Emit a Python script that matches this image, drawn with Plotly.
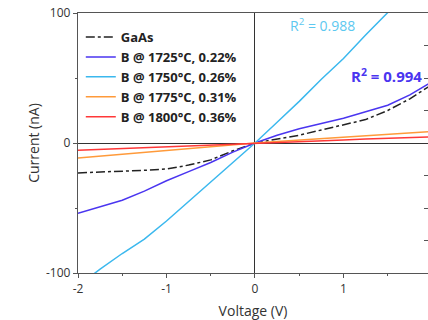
import plotly.graph_objects as go

voltage = [-2.0, -1.75, -1.5, -1.25, -1.0, -0.75, -0.5, -0.25, 0.0,
           0.25, 0.5, 0.75, 1.0, 1.25, 1.5, 1.75, 2.0]

gaas   = [-23, -22.5, -22, -21, -20, -17, -13, -6, 0, 3, 6, 10, 14, 18, 25, 34, 45]
b1725  = [-54, -49, -44, -37, -29, -22, -15, -7, 0, 6, 11, 15, 19, 24, 29, 37, 47]
b1750  = [-110, -97, -85, -74, -60, -45, -30, -15, 0, 16, 32, 49, 65, 83, 101, 118, 135]
b1775  = [-11.5, -10, -8.6, -7.2, -5.8, -4.3, -2.9, -1.4, 0, 1.1, 2.2, 3.3, 4.4, 5.5, 6.6, 7.7, 8.8]
b1800  = [-5.5, -4.8, -4.1, -3.4, -2.7, -2.0, -1.4, -0.7, 0, 0.6, 1.2, 1.8, 2.4, 3.0, 3.5, 4.1, 4.7]

series = [
    ("GaAs", gaas, "#222222", "dashdot"),
    ("B @ 1725°C, 0.22%", b1725, "#4a35f0", "solid"),
    ("B @ 1750°C, 0.26%", b1750, "#3bb8ee", "solid"),
    ("B @ 1775°C, 0.31%", b1775, "#ff9a3a", "solid"),
    ("B @ 1800°C, 0.36%", b1800, "#ff3838", "solid"),
]

r2_labels = ["R<sup>2</sup> = 0.988", "R<sup>2</sup> = 0.994"]

fig = go.Figure()
for name, ys, col, dash in series:
    fig.add_trace(go.Scatter(x=voltage, y=ys, mode="lines", name=name,
                             line=dict(color=col, width=1.5, dash=dash)))

# dummy trace for right-side ticks
fig.add_trace(go.Scatter(x=[None], y=[None], yaxis="y2", showlegend=False))

axis_col = "#555555"
font = "Open Sans"

fig.update_layout(
    width=428, height=320,
    margin=dict(l=78, r=0, t=13, b=47),
    paper_bgcolor="white", plot_bgcolor="white",
    font=dict(family=font, color="#333333", size=12),
    showlegend=True,
    legend=dict(x=0.008, y=0.965, xanchor="left", yanchor="top",
                bgcolor="rgba(255,255,255,0)", borderwidth=0,
                font=dict(family=font, size=13, color="#222222", weight="bold"),
                tracegroupgap=0),
    xaxis=dict(range=[-2, 1.955], tickvals=[-2, -1, 0, 1], ticktext=["-2", "-1", "0", "1"],
               showgrid=False, showline=True, linecolor=axis_col, linewidth=1.3,
               mirror=True, ticks="outside", ticklen=4, tickcolor=axis_col,
               minor=dict(dtick=0.5, ticks="outside", ticklen=2, tickcolor=axis_col),
               zeroline=True, zerolinecolor="#333333", zerolinewidth=1.2,
               title=dict(text="Voltage (V)", font=dict(size=14, color="#333333"), standoff=11),
               tickfont=dict(size=12, color="#333333")),
    yaxis=dict(range=[-100, 100], tickvals=[-100, 0, 100], ticktext=["-100", "0", "100"],
               showgrid=False, showline=True, linecolor=axis_col, linewidth=1.3,
               ticks="outside", ticklen=4, tickcolor=axis_col,
               minor=dict(dtick=50, ticks="outside", ticklen=2, tickcolor=axis_col),
               zeroline=True, zerolinecolor="#333333", zerolinewidth=1.2,
               title=dict(text="Current (nA)", font=dict(size=14, color="#333333"), standoff=3),
               tickfont=dict(size=12, color="#333333")),
    yaxis2=dict(range=[-100, 100], overlaying="y", side="right", anchor="x",
                tickvals=[-75, -50, -25, 25, 50, 75], showticklabels=False,
                ticks="inside", ticklen=4, tickcolor=axis_col, showgrid=False,
                showline=False, zeroline=False),
)

fig.add_annotation(x=0.37, y=91, xref="x", yref="y", text=r2_labels[0], showarrow=False,
                   xanchor="left", yanchor="middle",
                   font=dict(family=font, size=14, color="#5cc8f0"))
fig.add_annotation(x=1.06, y=52, xref="x", yref="y", text=r2_labels[1], showarrow=False,
                   xanchor="left", yanchor="middle",
                   font=dict(family=font, size=15, color="#4a35f0", weight="bold"))

fig.write_html("out.html")
